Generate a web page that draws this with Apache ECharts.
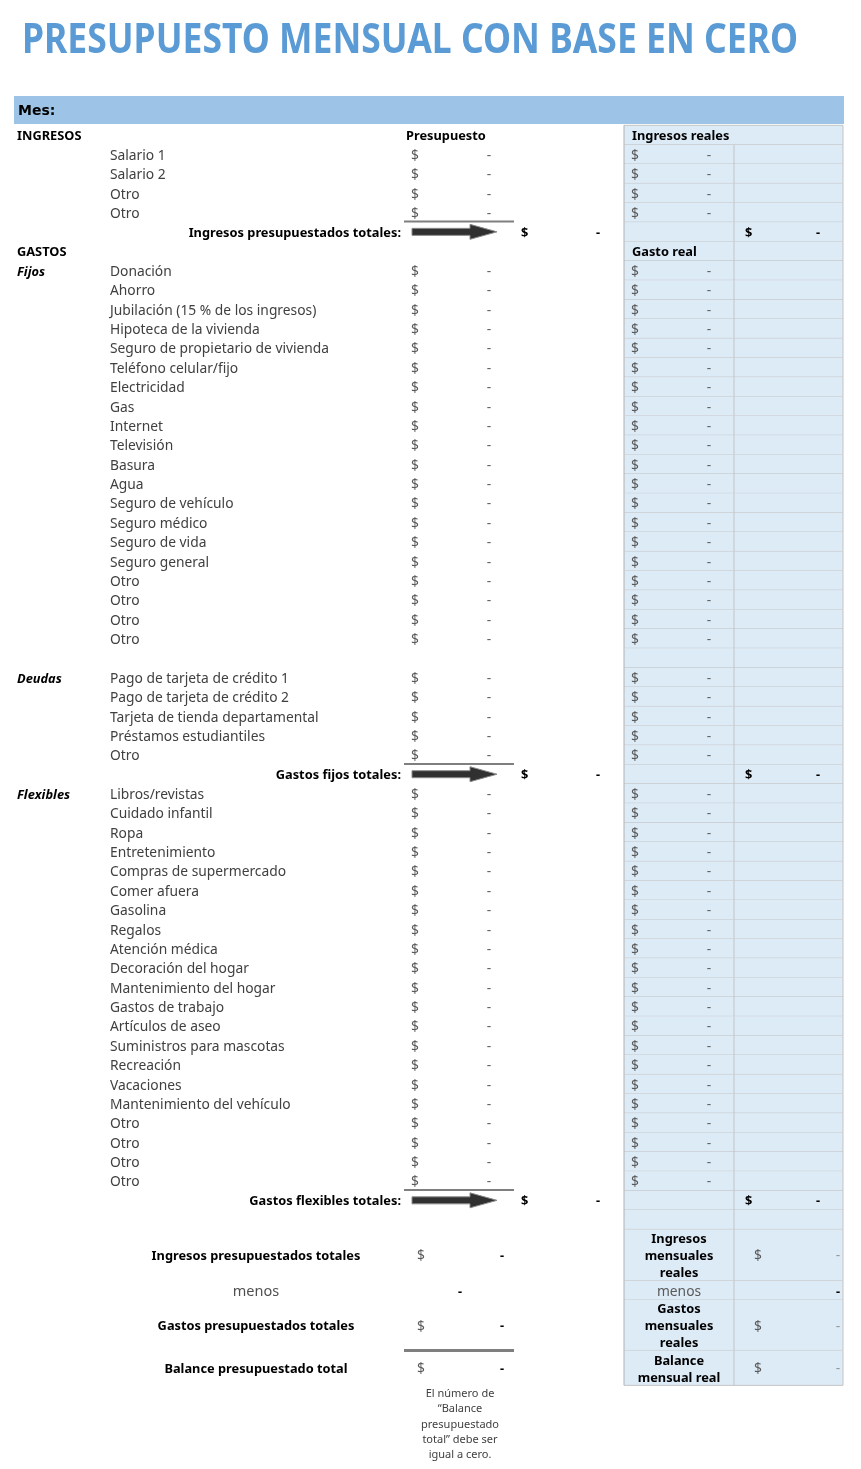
<!DOCTYPE html>
<html><head><meta charset="utf-8">
<script src="https://cdn.jsdelivr.net/npm/echarts@6/dist/echarts.min.js"></script>
<style>html,body{margin:0;padding:0;background:#fff}#c{width:861px;height:1469px}</style>
</head><body><div id="c"></div><script>
// ---------------- DATA ----------------
const titleText = 'PRESUPUESTO MENSUAL CON BASE EN CERO';
const monthLabel = 'Mes:';
const budgetHeader = 'Presupuesto';
const incomeHeader = 'Ingresos reales';
const expenseHeader = 'Gasto real';
const sectionLabels = ['INGRESOS', 'GASTOS'];
const groupLabels = ['Fijos', 'Deudas', 'Flexibles'];
const totalLabels = ['Ingresos presupuestados totales:', 'Gastos fijos totales:', 'Gastos flexibles totales:'];

const incomeItems = ['Salario 1', 'Salario 2', 'Otro', 'Otro'];
const incomeBudget = [0, 0, 0, 0];
const incomeActual = [0, 0, 0, 0];

const fixedItems = ['Donación', 'Ahorro', 'Jubilación (15 % de los ingresos)', 'Hipoteca de la vivienda',
  'Seguro de propietario de vivienda', 'Teléfono celular/fijo', 'Electricidad', 'Gas', 'Internet',
  'Televisión', 'Basura', 'Agua', 'Seguro de vehículo', 'Seguro médico', 'Seguro de vida',
  'Seguro general', 'Otro', 'Otro', 'Otro', 'Otro'];
const fixedBudget = [0, 0, 0, 0, 0, 0, 0, 0, 0, 0, 0, 0, 0, 0, 0, 0, 0, 0, 0, 0];
const fixedActual = [0, 0, 0, 0, 0, 0, 0, 0, 0, 0, 0, 0, 0, 0, 0, 0, 0, 0, 0, 0];

const debtItems = ['Pago de tarjeta de crédito 1', 'Pago de tarjeta de crédito 2',
  'Tarjeta de tienda departamental', 'Préstamos estudiantiles', 'Otro'];
const debtBudget = [0, 0, 0, 0, 0];
const debtActual = [0, 0, 0, 0, 0];

const flexItems = ['Libros/revistas', 'Cuidado infantil', 'Ropa', 'Entretenimiento',
  'Compras de supermercado', 'Comer afuera', 'Gasolina', 'Regalos', 'Atención médica',
  'Decoración del hogar', 'Mantenimiento del hogar', 'Gastos de trabajo', 'Artículos de aseo',
  'Suministros para mascotas', 'Recreación', 'Vacaciones', 'Mantenimiento del vehículo',
  'Otro', 'Otro', 'Otro', 'Otro'];
const flexBudget = [0, 0, 0, 0, 0, 0, 0, 0, 0, 0, 0, 0, 0, 0, 0, 0, 0, 0, 0, 0, 0];
const flexActual = [0, 0, 0, 0, 0, 0, 0, 0, 0, 0, 0, 0, 0, 0, 0, 0, 0, 0, 0, 0, 0];

const summaryLeftLabels = ['Ingresos presupuestados totales', 'menos', 'Gastos presupuestados totales', 'Balance presupuestado total'];
const summaryRightLabels = ['Ingresos\nmensuales\nreales', 'menos', 'Gastos\nmensuales\nreales', 'Balance\nmensual real'];
const noteText = 'El número de\n“Balance\npresupuestado\ntotal” debe ser\nigual a cero.';

// ---------------- LAYOUT / STYLE ----------------
const ROW_H = 19.37, ROW0_Y = 135, H = 1469, W = 861;
const TXT_DY = 1.5;
const FONT = '"Noto Sans", sans-serif';
const F_ITEM = '13.8px ' + FONT;
const F_BOLD = 'bold 12.8px ' + FONT;
const F_BI = 'italic bold 12.8px ' + FONT;
const C_TXT = '#404040', C_DOL = '#595959', C_DASH = '#666666';
const PANEL_FILL = '#ddebf7', PANEL_LINE = '#c3c3c3';
const X = { sec: 17, item: 110, bDol: 411, bVal: 489, bHead: 406, totLab: 401, tDol: 521, tVal: 598,
  pL: 624, pM: 734, pR: 843, aDol: 631, aVal: 709, aHead: 632, atDol: 745, atVal: 818,
  sLab: 256, sDol: 417, sVal: 502, sMinus: 460, rLab: 679, rDol: 754, rVal: 838, note: 460 };
// summary block row bounds (in row units)
const SUMMARY = [
  { t: 56.5, b: 59.15 }, { t: 59.15, b: 60.15 }, { t: 60.15, b: 62.75 }, { t: 62.75, b: 64.55 }
];

const sum = a => a.reduce((s, v) => s + v, 0);
const fmt = v => v === 0 ? '-' : v.toLocaleString('es-ES', { minimumFractionDigits: 2, maximumFractionDigits: 2 });

// ---------------- ROW MODEL ----------------
const rows = [];
rows.push({ type: 'section', label: sectionLabels[0], bHead: budgetHeader, aHead: incomeHeader });
incomeItems.forEach((l, i) => rows.push({ type: 'item', label: l, budget: incomeBudget[i], actual: incomeActual[i] }));
rows.push({ type: 'total', label: totalLabels[0], budget: sum(incomeBudget), actual: sum(incomeActual) });
rows.push({ type: 'section', label: sectionLabels[1], aHead: expenseHeader });
fixedItems.forEach((l, i) => rows.push({ type: 'item', group: i === 0 ? groupLabels[0] : '', label: l, budget: fixedBudget[i], actual: fixedActual[i] }));
rows.push({ type: 'blank' });
debtItems.forEach((l, i) => rows.push({ type: 'item', group: i === 0 ? groupLabels[1] : '', label: l, budget: debtBudget[i], actual: debtActual[i] }));
rows.push({ type: 'total', label: totalLabels[1], budget: sum(fixedBudget) + sum(debtBudget), actual: sum(fixedActual) + sum(debtActual) });
flexItems.forEach((l, i) => rows.push({ type: 'item', group: i === 0 ? groupLabels[2] : '', label: l, budget: flexBudget[i], actual: flexActual[i] }));
rows.push({ type: 'total', label: totalLabels[2], budget: sum(flexBudget), actual: sum(flexActual) });
rows.push({ type: 'blank' });

const totIncomeB = sum(incomeBudget), totExpB = sum(fixedBudget) + sum(debtBudget) + sum(flexBudget);
const totIncomeA = sum(incomeActual), totExpA = sum(fixedActual) + sum(debtActual) + sum(flexActual);
const summaryLeftValues = [totIncomeB, null, totExpB, totIncomeB - totExpB];
const summaryRightValues = [totIncomeA, null, totExpA, totIncomeA - totExpA];

// ---------------- RENDER HELPERS ----------------
function mk(api) {
  const P = (x, r) => api.coord([x, r]);
  return {
    P,
    text(x, r, s, font, fill, align, extra) {
      const p = P(x, r);
      return { type: 'text', x: p[0], y: p[1] + TXT_DY, style: Object.assign({ text: s, font: font, fill: fill, align: align || 'left', verticalAlign: 'middle' }, extra || {}) };
    },
    rect(x1, r1, x2, r2, fill) {
      const a = P(x1, r1), b = P(x2, r2);
      return { type: 'rect', shape: { x: a[0], y: a[1], width: b[0] - a[0], height: b[1] - a[1] }, style: { fill: fill } };
    },
    line(x1, r1, x2, r2, stroke, w) {
      const a = P(x1, r1), b = P(x2, r2);
      return { type: 'line', shape: { x1: a[0], y1: a[1], x2: b[0], y2: b[1] }, style: { stroke: stroke, lineWidth: w || 1 } };
    }
  };
}

function renderBg(params, api) {
  const h = mk(api);
  const i = params.dataIndex;
  const ch = [h.rect(X.pL, i - 0.5, X.pR, i + 0.5, PANEL_FILL),
    h.line(X.pL, i + 0.5, X.pR, i + 0.5, PANEL_LINE, 1)];
  if (i > 0) ch.push(h.line(X.pM, i - 0.5, X.pM, i + 0.5, PANEL_LINE, 1));
  else ch.push(h.line(X.pL, i - 0.5, X.pR, i - 0.5, PANEL_LINE, 1));
  ch.push(h.line(X.pL, i - 0.5, X.pL, i + 0.5, '#b0b0b0', 1));
  ch.push(h.line(X.pR, i - 0.5, X.pR, i + 0.5, PANEL_LINE, 1));
  return { type: 'group', children: ch };
}

function arrow(h, r) {
  const c = h.P(0, r)[1];
  const x0 = h.P(412, r)[0], x1 = h.P(470, r)[0], x2 = h.P(497, r)[0];
  return { type: 'polygon', shape: { points: [[x0, c - 3.5], [x1, c - 3.5], [x1, c - 7.5], [x2, c], [x1, c + 7.5], [x1, c + 3.5], [x0, c + 3.5]] },
    style: { fill: '#303030', stroke: '#8a8a8a', lineWidth: 1 } };
}

function renderRow(params, api) {
  const h = mk(api);
  const i = params.dataIndex, r = rows[i];
  const ch = [];
  if (r.type === 'section') {
    ch.push(h.text(X.sec, i, r.label, F_BOLD, '#000'));
    if (r.bHead) ch.push(h.text(X.bHead, i, r.bHead, F_BOLD, '#000'));
    if (r.aHead) ch.push(h.text(X.aHead, i, r.aHead, F_BOLD, '#000'));
  } else if (r.type === 'item') {
    if (r.group) ch.push(h.text(X.sec, i, r.group, F_BI, '#000'));
    ch.push(h.text(X.item, i, r.label, F_ITEM, C_TXT));
    ch.push(h.text(X.bDol, i, '$', F_ITEM, C_DOL));
    ch.push(h.text(X.bVal, i, fmt(r.budget), F_ITEM, C_DASH, 'center'));
    ch.push(h.text(X.aDol, i, '$', F_ITEM, C_DOL));
    ch.push(h.text(X.aVal, i, fmt(r.actual), F_ITEM, C_DASH, 'center'));
  } else if (r.type === 'total') {
    ch.push(h.line(404, i - 0.53, 514, i - 0.53, '#7f7f7f', 2));
    ch.push(h.text(X.totLab, i, r.label, F_BOLD, '#000', 'right'));
    ch.push(arrow(h, i));
    ch.push(h.text(X.tDol, i, '$', F_BOLD, '#000'));
    ch.push(h.text(X.tVal, i, fmt(r.budget), F_BOLD, '#000', 'center'));
    ch.push(h.text(X.atDol, i, '$', F_BOLD, '#000'));
    ch.push(h.text(X.atVal, i, fmt(r.actual), F_BOLD, '#000', 'center'));
  }
  return { type: 'group', children: ch };
}

function renderSummary(params, api) {
  const h = mk(api);
  const i = params.dataIndex, s = SUMMARY[i], c = (s.t + s.b) / 2;
  const ch = [h.rect(X.pL, s.t, X.pR, s.b, PANEL_FILL),
    h.line(X.pL, s.b, X.pR, s.b, PANEL_LINE, 1),
    h.line(X.pM, s.t, X.pM, s.b, PANEL_LINE, 1),
    h.line(X.pL, s.t, X.pL, s.b, '#b0b0b0', 1),
    h.line(X.pR, s.t, X.pR, s.b, PANEL_LINE, 1)];
  const minus = summaryLeftValues[i] === null;
  if (minus) {
    ch.push(h.text(X.sLab, c, summaryLeftLabels[i], '14.5px ' + FONT, '#505050', 'center'));
    ch.push(h.text(X.sMinus, c, '-', F_BOLD, '#000', 'center'));
    ch.push(h.text(X.rLab, c, summaryRightLabels[i], F_ITEM, '#595959', 'center'));
    ch.push(h.text(X.rVal, c, '-', F_BOLD, '#000', 'center'));
  } else {
    ch.push(h.text(X.sLab, c, summaryLeftLabels[i], F_BOLD, '#000', 'center'));
    ch.push(h.text(X.sDol, c, '$', F_ITEM, C_DOL));
    ch.push(h.text(X.sVal, c, fmt(summaryLeftValues[i]), F_BOLD, '#000', 'center'));
    ch.push(h.text(X.rLab, c, summaryRightLabels[i], F_BOLD, '#000', 'center', { lineHeight: 17 }));
    ch.push(h.text(X.rDol, c, '$', F_ITEM, C_DOL));
    ch.push(h.text(X.rVal, c, fmt(summaryRightValues[i]), F_ITEM, '#999', 'center'));
  }
  if (i === 3) {
    ch.push(h.line(404, s.t, 514, s.t, '#7f7f7f', 3));
    ch.push(h.text(X.note, s.b - 0.05, noteText, '11px ' + FONT, C_TXT, 'center', { verticalAlign: 'top', lineHeight: 15.4 }));
  }
  return { type: 'group', children: ch };
}

function renderHeader(params, api) {
  const h = mk(api);
  const tp = h.P(22, 0);
  const titleY = 41.2;
  return { type: 'group', children: [
    { type: 'text', x: tp[0], y: titleY, scaleY: 1.18,
      style: { text: titleText, font: 'bold 35.5px ' + FONT, fill: '#5b9bd5', align: 'left', verticalAlign: 'middle' } },
    h.rect(14, -2.01, 844, -0.57, '#9dc3e6'),
    h.text(18, -1.29, monthLabel, 'bold 14px "DejaVu Sans", sans-serif', '#000')
  ] };
}

// ---------------- CHART ----------------
const chart = echarts.init(document.getElementById('c'), null, { renderer: 'canvas' });
chart.setOption({
  animation: false,
  backgroundColor: '#fff',
  grid: { left: 0, right: 0, top: 0, bottom: 0 },
  xAxis: { type: 'value', min: 0, max: W, show: false },
  yAxis: { type: 'value', inverse: true, min: -ROW0_Y / ROW_H, max: (H - ROW0_Y) / ROW_H, show: false },
  series: [
    { type: 'custom', silent: true, z: 1, renderItem: renderHeader, data: [0] },
    { type: 'custom', silent: true, z: 2, renderItem: renderBg, data: rows.map((_, i) => i) },
    { type: 'custom', silent: true, z: 2, renderItem: renderSummary, data: SUMMARY.map((_, i) => i) },
    { type: 'custom', silent: true, z: 3, renderItem: renderRow, data: rows.map((_, i) => i) }
  ]
});
</script></body></html>
